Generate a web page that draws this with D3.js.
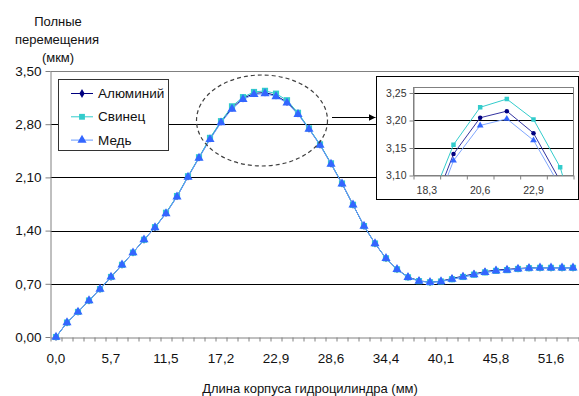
<!DOCTYPE html>
<html>
<head>
<meta charset="utf-8">
<script src="https://cdn.jsdelivr.net/npm/d3@7"></script>
<style>
  body { margin: 0; background: #fff; }
  svg { display: block; font-family: "Liberation Sans", Arial, sans-serif; }
</style>
</head>
<body>
<div id="chart"></div>
<script>
// categories: длина корпуса (мм)
var categories = ["0,0","1,1","2,3","3,4","4,6","5,7","6,9","8,0","9,2","10,3",
  "11,5","12,6","13,8","14,9","16,0","17,2","18,3","19,5","20,6","21,8",
  "22,9","24,1","25,2","26,4","27,5","28,6","29,8","30,9","32,1","33,2",
  "34,4","35,5","36,7","37,8","39,0","40,1","41,3","42,4","43,5","44,7",
  "45,8","47,0","48,1","49,3","50,4","51,6","52,7","53,9"];

var seriesNames = ["Алюминий", "Свинец", "Медь"];

var alum = [0.00,0.19,0.33,0.48,0.63,0.79,0.95,1.11,1.28,1.44,
  1.63,1.85,2.11,2.36,2.61,2.83,3.014,3.139,3.205,3.217,
  3.177,3.09,2.94,2.74,2.53,2.28,2.02,1.74,1.46,1.23,
  1.035,0.89,0.79,0.74,0.72,0.735,0.77,0.80,0.83,0.86,
  0.88,0.89,0.90,0.91,0.91,0.91,0.91,0.91];

var lead = [0.00,0.19,0.33,0.48,0.63,0.79,0.95,1.11,1.28,1.445,
  1.635,1.855,2.115,2.365,2.62,2.84,3.035,3.156,3.224,3.239,
  3.202,3.115,2.95,2.745,2.535,2.285,2.02,1.74,1.46,1.23,
  1.035,0.89,0.785,0.735,0.72,0.73,0.76,0.79,0.82,0.85,
  0.87,0.88,0.895,0.905,0.91,0.91,0.91,0.91];

var copper = [0.00,0.19,0.33,0.48,0.63,0.79,0.95,1.11,1.28,1.44,
  1.625,1.845,2.105,2.355,2.60,2.82,3.00,3.127,3.191,3.203,
  3.164,3.08,2.93,2.735,2.525,2.275,2.015,1.74,1.46,1.23,
  1.035,0.89,0.785,0.735,0.72,0.73,0.76,0.79,0.82,0.85,
  0.87,0.88,0.895,0.905,0.91,0.91,0.91,0.91];

var yTicks = [0, 0.70, 1.40, 2.10, 2.80, 3.50];
var insetYTicks = [3.10, 3.15, 3.20, 3.25];
var insetIdx = [15, 16, 17, 18, 19, 20, 21, 22];

var colors = {
  alumLine: "#000080", alumMark: "#000080",
  leadLine: "#33cccc", leadMark: "#33cccc",
  copLine: "#6699ff", copMark: "#3366ff"
};

var W = 579, H = 396;
var svg = d3.select("#chart").append("svg")
  .attr("width", W).attr("height", H);

var fmt2 = function (d) { return d3.format(".2f")(d).replace(".", ","); };

// scales (boundary-based category axis)
var n = categories.length;
var xb = d3.scaleLinear().domain([0, n]).range([50.5, 578.5]);
var xc = function (i) { return xb(i + 0.5); };
var y = d3.scaleLinear().domain([0, 3.5]).range([337, 71]);

// gridlines
svg.append("g").selectAll("line")
  .data(yTicks.filter(function (d) { return d > 0 && d < 3.5; }))
  .enter().append("line")
  .attr("x1", 50.5).attr("x2", W)
  .attr("y1", function (d) { return Math.round(y(d)) + 0.5; })
  .attr("y2", function (d) { return Math.round(y(d)) + 0.5; })
  .attr("stroke", "#000").attr("stroke-width", 1);

// top border
svg.append("line").attr("x1", 50.5).attr("x2", W)
  .attr("y1", 71.5).attr("y2", 71.5).attr("stroke", "#808080");

// y axis
var yAxis = svg.append("g").attr("transform", "translate(50.5,0)")
  .call(d3.axisLeft(y).tickValues(yTicks).tickFormat(fmt2).tickSize(5).tickSizeOuter(0));
yAxis.select(".domain").attr("stroke", "#808080");
yAxis.selectAll(".tick line").attr("stroke", "#808080");
yAxis.selectAll(".tick text").attr("font-size", "13.5px").attr("fill", "#111")
  .attr("font-family", "Liberation Sans, Arial, sans-serif").attr("x", -9);

// x axis ticks at category boundaries
var xAxis = svg.append("g").attr("transform", "translate(0,337.5)")
  .call(d3.axisBottom(xb).tickValues(d3.range(0, n + 1)).tickFormat("").tickSize(4).tickSizeOuter(0));
xAxis.select(".domain").attr("stroke", "#808080");
xAxis.selectAll(".tick line").attr("stroke", "#808080");

// x labels every 5th category
svg.append("g").selectAll("text")
  .data(d3.range(0, n, 5))
  .enter().append("text")
  .attr("x", function (i) { return xc(i); })
  .attr("y", 363)
  .attr("text-anchor", "middle")
  .attr("font-size", "13.5px").attr("fill", "#111")
  .text(function (i) { return categories[i]; });

// axis titles
var title = svg.append("text").attr("font-size", "13px").attr("fill", "#111")
  .attr("text-anchor", "middle");
title.append("tspan").attr("x", 58).attr("y", 26).text("Полные");
title.append("tspan").attr("x", 57).attr("y", 44).text("перемещения");
title.append("tspan").attr("x", 58).attr("y", 62).text("(мкм)");

svg.append("text").attr("x", 310).attr("y", 393)
  .attr("text-anchor", "middle").attr("font-size", "13px").attr("fill", "#111")
  .text("Длина корпуса гидроцилиндра (мм)");

// marker helpers
function drawSeries(g, data, xf, yf, lineColor, markColor, type, msize, lw) {
  var line = d3.line()
    .x(function (d) { return xf(d.i); })
    .y(function (d) { return yf(d.v); });
  g.append("path").datum(data).attr("d", line)
    .attr("fill", "none").attr("stroke", lineColor).attr("stroke-width", lw);
  var sym = type === "diamond" ? d3.symbolDiamond : type === "square" ? d3.symbolSquare :
    type === "circle" ? d3.symbolCircle : d3.symbolTriangle;
  g.selectAll(null).data(data).enter().append("path")
    .attr("d", d3.symbol().type(sym).size(msize))
    .attr("transform", function (d) { return "translate(" + xf(d.i) + "," + yf(d.v) + ")"; })
    .attr("fill", markColor);
}

function toPts(arr, idx) {
  return idx.map(function (i) { return { i: i, v: arr[i] }; });
}

var allIdx = d3.range(0, n);
var main = svg.append("g");
drawSeries(main, toPts(alum, allIdx), xc, y, colors.alumLine, colors.alumMark, "diamond", 18, 1);
drawSeries(main, toPts(lead, allIdx), xc, y, colors.leadLine, colors.leadMark, "square", 38, 1);
drawSeries(main, toPts(copper, allIdx), xc, y, colors.copLine, colors.copMark, "triangle", 36, 1);

// legend
var lg = svg.append("g");
lg.append("rect").attr("x", 58.5).attr("y", 79.5).attr("width", 110).attr("height", 71)
  .attr("fill", "#fff").attr("stroke", "#333");
var legendItems = [
  { name: seriesNames[0], lc: colors.alumLine, mc: colors.alumMark, t: "diamond", s: 24 },
  { name: seriesNames[1], lc: colors.leadLine, mc: colors.leadMark, t: "square", s: 34 },
  { name: seriesNames[2], lc: colors.copLine, mc: colors.copMark, t: "triangle", s: 36 }
];
legendItems.forEach(function (it, k) {
  var cy = 93.5 + k * 23.3;
  lg.append("line").attr("x1", 71).attr("x2", 93).attr("y1", cy).attr("y2", cy)
    .attr("stroke", it.lc).attr("stroke-width", 1);
  var sym = it.t === "diamond" ? d3.symbolDiamond : it.t === "square" ? d3.symbolSquare : d3.symbolTriangle;
  lg.append("path").attr("d", d3.symbol().type(sym).size(it.s))
    .attr("transform", "translate(82," + cy + ")").attr("fill", it.mc);
  lg.append("text").attr("x", 98).attr("y", cy + 4.5).attr("font-size", "13.5px")
    .attr("fill", "#111").text(it.name);
});

// dashed ellipse and arrow
svg.append("ellipse").attr("cx", 262).attr("cy", 120.5).attr("rx", 65.5).attr("ry", 45.5)
  .attr("fill", "none").attr("stroke", "#404040").attr("stroke-width", 1.2)
  .attr("stroke-dasharray", "4,3");
svg.append("defs").append("marker").attr("id", "arr")
  .attr("viewBox", "0 0 10 10").attr("refX", 10).attr("refY", 5)
  .attr("markerWidth", 7).attr("markerHeight", 7).attr("orient", "auto")
  .append("path").attr("d", "M0,0L10,5L0,10Z").attr("fill", "#000");
svg.append("line").attr("x1", 332).attr("x2", 375.5).attr("y1", 117.5).attr("y2", 117.5)
  .attr("stroke", "#000").attr("marker-end", "url(#arr)");

// inset
var inset = svg.append("g");
inset.append("rect").attr("x", 376.5).attr("y", 76.5).attr("width", 202).attr("height", 123)
  .attr("fill", "#fff").attr("stroke", "#000");

var ixb = d3.scaleLinear().domain([16, 22]).range([413.5, 573.5]);
var ixc = function (i) { return ixb(i + 0.5); };
var iy = d3.scaleLinear().domain([3.10, 3.26]).range([175.5, 87.5]);

inset.append("g").selectAll("line")
  .data(insetYTicks.filter(function (d) { return d > 3.10; }))
  .enter().append("line")
  .attr("x1", 413.5).attr("x2", 573.5)
  .attr("y1", function (d) { return Math.round(iy(d)) + 0.5; })
  .attr("y2", function (d) { return Math.round(iy(d)) + 0.5; })
  .attr("stroke", "#000");
inset.append("rect").attr("x", 413.5).attr("y", 87.5).attr("width", 160).attr("height", 88)
  .attr("fill", "none").attr("stroke", "#808080");

var iyAxis = inset.append("g").attr("transform", "translate(413.5,0)")
  .call(d3.axisLeft(iy).tickValues(insetYTicks).tickFormat(fmt2).tickSize(4).tickSizeOuter(0));
iyAxis.select(".domain").attr("stroke", "#808080");
iyAxis.selectAll(".tick line").attr("stroke", "#808080");
iyAxis.selectAll(".tick text").attr("font-size", "10.5px").attr("fill", "#333")
  .attr("font-family", "Liberation Sans, Arial, sans-serif").attr("x", -7);

var ixAxis = inset.append("g").attr("transform", "translate(0,175.5)")
  .call(d3.axisBottom(ixb).tickValues(d3.range(16, 23)).tickFormat("").tickSize(4).tickSizeOuter(0));
ixAxis.select(".domain").attr("stroke", "#808080");
ixAxis.selectAll(".tick line").attr("stroke", "#808080");

inset.append("g").selectAll("text")
  .data([16, 18, 20])
  .enter().append("text")
  .attr("x", function (i) { return ixc(i); })
  .attr("y", 194)
  .attr("text-anchor", "middle").attr("font-size", "10.5px").attr("fill", "#333")
  .text(function (i) { return categories[i]; });

svg.append("clipPath").attr("id", "iclip").append("rect")
  .attr("x", 413.5).attr("y", 87.5).attr("width", 160).attr("height", 88);
var ig = inset.append("g").attr("clip-path", "url(#iclip)");
drawSeries(ig, toPts(alum, insetIdx), ixc, iy, "#3333a0", colors.alumMark, "circle", 16, 1);
drawSeries(ig, toPts(lead, insetIdx), ixc, iy, colors.leadLine, colors.leadMark, "square", 20, 1);
drawSeries(ig, toPts(copper, insetIdx), ixc, iy, "#7fa6ff", colors.copMark, "triangle", 20, 1);
</script>
</body>
</html>
